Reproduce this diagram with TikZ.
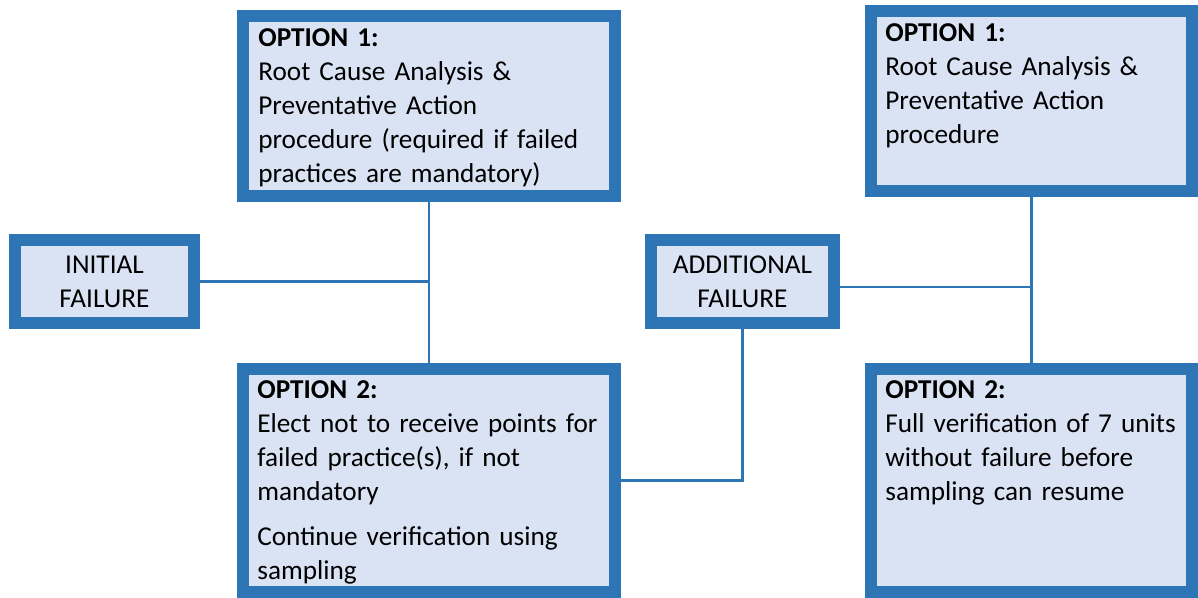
\documentclass[tikz,border=0pt]{standalone}
\usepackage{fontspec}
\setmainfont{Carlito}
\definecolor{boxblue}{HTML}{2E75B6}
\definecolor{boxfill}{HTML}{DAE3F3}
\tikzset{
  panel/.style={draw=boxblue, fill=boxfill, line width=0.24cm, inner sep=0pt,
    font=\fontsize{15.5pt}{19.3pt}\selectfont},
  paneltext/.style={anchor=base west, inner sep=0pt, text width=7.5cm, align=left,
    font=\fontsize{15.5pt}{19.3pt}\selectfont},
  link/.style={draw=boxblue, line width=0.05cm}
}

\begin{document}
\begin{tikzpicture}
\useasboundingbox (0,0) rectangle (23.96,11.96);
% left side
\node[panel, minimum width=3.58cm, minimum height=1.66cm, align=center] (initial) at (2.09,6.33) {INITIAL\\FAILURE};
\node[panel, minimum width=7.44cm, minimum height=3.6cm] (optAone) at (8.58,9.84) {};
\node[panel, minimum width=7.44cm, minimum height=4.46cm] (optAtwo) at (8.58,2.35) {};
\node[paneltext] (optAonetext) at (5.16,11.02) {\textbf{OPTION 1:}\\Root Cause Analysis \&\\Preventative Action\\procedure (required if failed\\practices are mandatory)};
\node[paneltext] (optAtwotext) at (5.14,3.98) {\textbf{OPTION 2:}\\Elect not to receive points for\\failed practice(s), if not\\mandatory\\[6pt]Continue verification using\\sampling};
% right side
\node[panel, minimum width=3.66cm, minimum height=1.66cm, align=center] (additional) at (14.85,6.33) {ADDITIONAL\\FAILURE};
\node[panel, minimum width=6.42cm, minimum height=3.6cm] (optBone) at (20.63,9.94) {};
\node[panel, minimum width=6.42cm, minimum height=4.46cm] (optBtwo) at (20.63,2.35) {};
\node[paneltext] (optBonetext) at (17.70,11.12) {\textbf{OPTION 1:}\\Root Cause Analysis \&\\Preventative Action\\procedure};
\node[paneltext] (optBtwotext) at (17.70,3.98) {\textbf{OPTION 2:}\\Full verification of 7 units\\without failure before\\sampling can resume};
% connectors
\draw[link] (optAone.south) -- (optAtwo.north);
\draw[link] (initial.east) -- (initial.east -| optAone.south);
\draw[link] (additional.south) |- (optAtwo.east);
\draw[link] (optBone.south) -- (optBtwo.north);
\draw[link] ([yshift=-3pt]additional.east) -- ([yshift=-3pt]additional.east -| optBone.south);
\end{tikzpicture}
\end{document}
